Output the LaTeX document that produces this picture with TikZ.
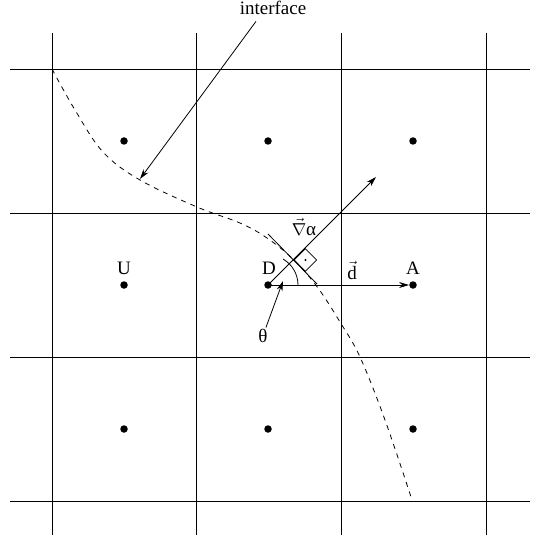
\documentclass[tikz,border=0pt]{standalone}
\usepackage{amsmath}
\usepackage{fontspec}
\setmainfont{Liberation Serif}
\usepackage{tikz}
\usetikzlibrary{arrows.meta, positioning}

\begin{document}
\begin{tikzpicture}[
        % 坐标以像素计，y 轴向下
        x=1pt, y=-1pt,
        font=\fontsize{19}{22}\selectfont,
        % 网格线样式
        gridline/.style={
            line width=0.85pt,
            black
        },
        % 单元中心点样式
        cellpt/.style={
            circle,
            fill=black,
            inner sep=0pt,
            minimum size=7.5pt
        },
        % 箭头样式
        arrow/.style={
            -{Stealth[length=10pt, width=6pt]},
            line width=0.8pt
        },
        % 界面虚线样式
        iface/.style={
            dash pattern=on 5pt off 5pt,
            line width=0.8pt
        },
        % 标签文字样式
        label_text/.style={
            inner sep=1pt,
            anchor=base
        }
    ]

    \useasboundingbox (0,0) rectangle (534,545);

    % 1. 网格
    \draw[gridline] (52,33) -- (52,535);
    \draw[gridline] (196,33) -- (196,535);
    \draw[gridline] (341,33) -- (341,535);
    \draw[gridline] (486,33) -- (486,535);
    \draw[gridline] (10,69) -- (530,69);
    \draw[gridline] (10,213) -- (530,213);
    \draw[gridline] (10,357) -- (530,357);
    \draw[gridline] (10,501) -- (530,501);

    % 2. 单元中心点
    \node[cellpt] (top_left) at (124,141) {};
    \node[cellpt] (top_mid) at (268,141) {};
    \node[cellpt] (top_right) at (413,141) {};
    \node[cellpt] (upwind) at (124,285) {};
    \node[cellpt] (donor) at (268,285) {};
    \node[cellpt] (acceptor) at (413,285) {};
    \node[cellpt] (bot_left) at (124,429) {};
    \node[cellpt] (bot_mid) at (268,429) {};
    \node[cellpt] (bot_right) at (413,429) {};

    \node[label_text] (lbl_U) at (124,274) {U};
    \node[label_text] (lbl_D) at (269,274) {D};
    \node[label_text] (lbl_A) at (413,274) {A};

    % 3. 界面曲线及标注
    \draw[iface] plot[smooth, tension=0.6] coordinates {
        (52,69) (75,110) (103,152) (140,180) (197,207) (240,223)
        (267,238) (294,260) (318,288) (340,322) (360,357) (385,420) (412,500)};
    \coordinate (iface_pt) at (140,179);
    \node[label_text] (iface_label) at (273,15) {interface};
    \draw[arrow] ([xshift=-17pt, yshift=-5pt]iface_label.south) -- (iface_pt);

    % 4. 切线、法向量与直角标记
    \draw[line width=0.8pt] (268,234) -- (317,284);
    \coordinate (grad_tip) at (376,177);
    \draw[arrow] (donor.center) -- (grad_tip);
    \draw[line width=0.8pt] (294,260) -- (305.3,248.7) -- (316.6,260) -- (305.3,271.3) -- cycle;
    \fill (305.5,260) circle[radius=1.2pt];
    \node[label_text] (lbl_grad) at (304,235) {$\vec{\nabla}$α};

    % 5. 方向向量与夹角
    \draw[arrow] (donor.center) -- (acceptor);
    \node[label_text] (lbl_d) at (352,279) {$\vec{\mathrm{d}}$};
    \draw[line width=0.8pt] (donor.center) ++(30,0) arc[start angle=0, end angle=60, radius=30pt];
    \node[label_text] (lbl_theta) at (263,342) {θ};
    \coordinate (theta_tip) at (283,281);
    \draw[arrow] (lbl_theta) -- (theta_tip);

\end{tikzpicture}
\end{document}
